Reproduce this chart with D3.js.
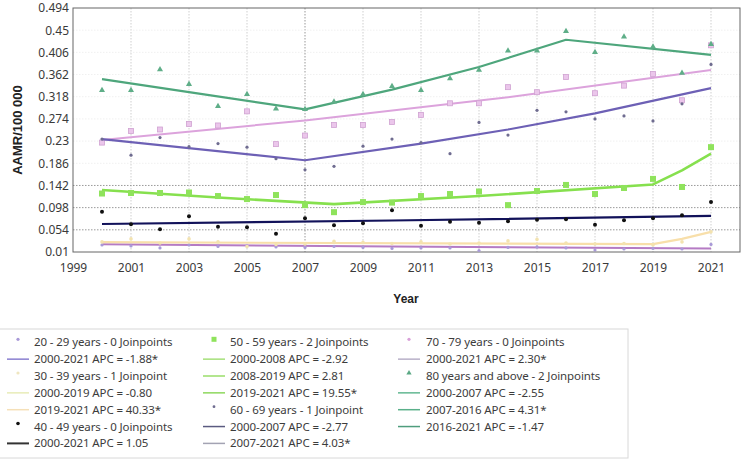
<!DOCTYPE html>
<html>
<head>
<meta charset="utf-8">
<script src="https://cdn.jsdelivr.net/npm/d3@7/dist/d3.min.js"></script>
<style>
  html, body { margin: 0; padding: 0; background: #fff; }
  svg { display: block; }
</style>
</head>
<body>
<svg id="chart" width="750" height="468"></svg>
<script>
// ---------------- DATA ----------------
const years = [2000,2001,2002,2003,2004,2005,2006,2007,2008,2009,2010,2011,2012,2013,2014,2015,2016,2017,2018,2019,2020,2021];

const obs20_29 = [0.024,0.022,0.018,0.024,0.021,0.022,0.020,0.019,0.021,0.019,0.017,0.018,0.018,0.013,0.019,0.020,0.018,0.014,0.016,0.017,0.016,0.025];
const obs30_39 = [0.030,0.036,0.028,0.036,0.030,0.021,0.025,0.026,0.031,0.029,0.027,0.030,0.026,0.028,0.032,0.035,0.028,0.026,0.027,0.024,0.030,0.050];
const obs40_49 = [0.090,0.065,0.055,0.081,0.060,0.059,0.046,0.077,0.063,0.067,0.093,0.062,0.070,0.068,0.071,0.074,0.075,0.064,0.073,0.077,0.083,0.109];
const obs50_59 = [0.126,0.127,0.127,0.128,0.121,0.115,0.123,0.103,0.089,0.109,0.108,0.121,0.125,0.130,0.103,0.131,0.143,0.125,0.137,0.155,0.139,0.218];
const obs60_69 = [0.234,0.202,0.237,0.219,0.225,0.218,0.195,0.173,0.180,0.220,0.234,0.227,0.205,0.267,0.242,0.291,0.288,0.274,0.280,0.270,0.304,0.382];
const obs70_79 = [0.227,0.250,0.253,0.264,0.261,0.289,0.224,0.241,0.262,0.262,0.268,0.282,0.305,0.305,0.337,0.327,0.357,0.325,0.340,0.363,0.311,0.420];
const obs80 = [0.331,0.331,0.372,0.343,0.299,0.323,0.294,0.293,0.308,0.323,0.339,0.331,0.354,0.371,0.409,0.409,0.448,0.406,0.437,0.417,0.365,0.422];

// fitted joinpoint lines: [year, value]
const fit20_29 = [[2000,0.0255],[2010,0.0210],[2021,0.0170]];
const fit30_39 = [[2000,0.0295],[2019,0.0255],[2020,0.0360],[2021,0.0500]];
const fit40_49 = [[2000,0.0655],[2010,0.0725],[2021,0.0815]];
const fit50_59 = [[2000,0.133],[2004,0.118],[2008,0.105],[2013,0.121],[2019,0.144],[2020,0.172],[2021,0.205]];
const fit60_69 = [[2000,0.234],[2007,0.192],[2011,0.225],[2014,0.253],[2017,0.285],[2021,0.335]];
const fit70_79 = [[2000,0.232],[2007,0.271],[2014,0.317],[2021,0.371]];
const fit80 = [[2000,0.353],[2003,0.327],[2007,0.293],[2010,0.332],[2013,0.377],[2016,0.431],[2021,0.401]];

const yTicks = [0.01,0.054,0.098,0.142,0.186,0.23,0.274,0.318,0.362,0.406,0.45,0.494];
const yTickLabels = ["0.01","0.054","0.098","0.142","0.186","0.23","0.274","0.318","0.362","0.406","0.45","0.494"];
const xTicks = [1999,2001,2003,2005,2007,2009,2011,2013,2015,2017,2019,2021];

const legendCol1 = ["20 - 29 years - 0 Joinpoints","2000-2021 APC = -1.88*","30 - 39 years - 1 Joinpoint","2000-2019 APC = -0.80","2019-2021 APC = 40.33*","40 - 49 years - 0 Joinpoints","2000-2021 APC = 1.05"];
const legendCol2 = ["50 - 59 years - 2 Joinpoints","2000-2008 APC = -2.92","2008-2019 APC = 2.81","2019-2021 APC = 19.55*","60 - 69 years - 1 Joinpoint","2000-2007 APC = -2.77","2007-2021 APC = 4.03*"];
const legendCol3 = ["70 - 79 years - 0 Joinpoints","2000-2021 APC = 2.30*","80 years and above - 2 Joinpoints","2000-2007 APC = -2.55","2007-2016 APC = 4.31*","2016-2021 APC = -1.47"];

// ---------------- STYLES ----------------
const series = [
  {obs: obs20_29, fit: fit20_29, line: "#b57bc4", lw: 2, mark: "circle", r: 1.6, fill: "#a99ad8"},
  {obs: obs30_39, fit: fit30_39, line: "#f8dfaa", lw: 2.2, mark: "circle", r: 1.8, fill: "#f3e3b0"},
  {obs: obs70_79, fit: fit70_79, line: "#dca3dc", lw: 2, mark: "square", r: 5, fill: "#ebc6eb", stroke: "#d0a2d2"},
  {obs: obs60_69, fit: fit60_69, line: "#6d60b5", lw: 2.2, mark: "circle", r: 1.6, fill: "#6f6c90"},
  {obs: obs80, fit: fit80, line: "#4ea67c", lw: 2.2, mark: "triangle", r: 16, fill: "#5fae88"},
  {obs: obs40_49, fit: fit40_49, line: "#12125a", lw: 2.2, mark: "circle", r: 2, fill: "#111"},
  {obs: obs50_59, fit: fit50_59, line: "#86e04e", lw: 2.6, mark: "square", r: 6, fill: "#8fe35c"}
];

const leg1Style = [
  {t:"m", mark:"circle", fill:"#a99ad8", r:1.6},
  {t:"l", c:"#8a7fd0"},
  {t:"m", mark:"circle", fill:"#efe6c0", r:1.6},
  {t:"l", c:"#e8ecb8"},
  {t:"l", c:"#f5e0b8"},
  {t:"m", mark:"circle", fill:"#111", r:1.8},
  {t:"l", c:"#333", w:2}
];
const leg2Style = [
  {t:"m", mark:"square", fill:"#8fe35c", r:5},
  {t:"l", c:"#a5e07a"},
  {t:"l", c:"#9ade6a"},
  {t:"l", c:"#8ed85e"},
  {t:"m", mark:"circle", fill:"#6f6c90", r:1.4},
  {t:"l", c:"#5a5a80"},
  {t:"l", c:"#a3a3b3"}
];
const leg3Style = [
  {t:"m", mark:"circle", fill:"#d9a0d9", r:1.6},
  {t:"l", c:"#b8b0c8"},
  {t:"m", mark:"triangle", fill:"#5aa884", r:12},
  {t:"l", c:"#63b892"},
  {t:"l", c:"#5ab08a"},
  {t:"l", c:"#4f9d7d"}
];

// ---------------- CHART ----------------
const svg = d3.select("#chart");
svg.append("rect").attr("width",750).attr("height",468).attr("fill","#fff");

const x = d3.scaleLinear().domain([1999,2022]).range([73,740]);
const y = d3.scaleLinear().domain([0.01,0.494]).range([252,8]);
const FONT = "'Noto Sans', 'Open Sans', sans-serif";

// grid
const grid = svg.append("g");
grid.selectAll("line.v").data(xTicks.filter(d => d > 1999)).enter().append("line")
  .attr("x1", d => x(d)).attr("x2", d => x(d)).attr("y1", 8).attr("y2", 252)
  .attr("stroke", d => d === 2007 ? "#999" : "#cfcfcf").attr("stroke-width", 1)
  .attr("stroke-dasharray", "1.5,1.5");
grid.selectAll("line.h").data(yTicks.slice(1, -1)).enter().append("line")
  .attr("x1", 73).attr("x2", 740).attr("y1", d => y(d)).attr("y2", d => y(d))
  .attr("stroke", d => d <= 0.142 ? "#9a9a9a" : "#f0f0f0").attr("stroke-width", 1)
  .attr("stroke-dasharray", "1.5,1.5");

// axes
const yAxis = d3.axisLeft(y).tickValues(yTicks).tickSize(0).tickPadding(4)
  .tickFormat((d, i) => yTickLabels[i]);
const gy = svg.append("g").attr("transform", "translate(73,0)").call(yAxis);
gy.select(".domain").remove();
gy.selectAll("text").attr("font-family", FONT).attr("font-size", 12).attr("fill", "#3a3a3a");

const xAxis = d3.axisBottom(x).tickValues(xTicks).tickSize(0).tickPadding(11)
  .tickFormat(d3.format("d"));
const gx = svg.append("g").attr("transform", "translate(0,252)").call(xAxis);
gx.select(".domain").remove();
gx.selectAll("text").attr("font-family", FONT).attr("font-size", 12).attr("fill", "#3a3a3a");

// frame
svg.append("rect").attr("x", 73).attr("y", 8).attr("width", 667).attr("height", 244)
  .attr("fill", "none").attr("stroke", "#666").attr("stroke-width", 1);

// series
const lineGen = d3.line().x(d => x(d[0])).y(d => y(d[1]));
function drawMark(g, m, cx, cy) {
  if (m.mark === "circle") {
    g.append("circle").attr("cx", cx).attr("cy", cy).attr("r", m.r).attr("fill", m.fill);
  } else if (m.mark === "square") {
    g.append("rect").attr("x", cx - m.r/2).attr("y", cy - m.r/2).attr("width", m.r).attr("height", m.r)
      .attr("fill", m.fill).attr("stroke", m.stroke || "none").attr("stroke-width", m.stroke ? 0.8 : 0);
  } else if (m.mark === "triangle") {
    g.append("path").attr("d", d3.symbol().type(d3.symbolTriangle).size(m.r)())
      .attr("transform", `translate(${cx},${cy})`).attr("fill", m.fill);
  }
}
series.forEach(s => {
  const g = svg.append("g");
  g.append("path").attr("d", lineGen(s.fit)).attr("fill", "none")
    .attr("stroke", s.line).attr("stroke-width", s.lw).attr("stroke-linejoin", "round");
  s.obs.forEach((v, i) => drawMark(g, s, x(years[i]), y(v)));
});

// axis titles
svg.append("text").attr("transform", "translate(22,130) rotate(-90)")
  .attr("text-anchor", "middle").attr("font-family", "'Liberation Sans', Arial, sans-serif")
  .attr("font-weight", "bold").attr("font-size", 13).attr("fill", "#222").text("AAMR/100 000");
svg.append("text").attr("x", 406).attr("y", 303).attr("text-anchor", "middle")
  .attr("font-family", "'Liberation Sans', Arial, sans-serif")
  .attr("font-weight", "bold").attr("font-size", 12).attr("fill", "#222").text("Year");

// legend
svg.append("rect").attr("x", -1).attr("y", 329).attr("width", 629).attr("height", 129)
  .attr("fill", "#fff").attr("stroke", "#d8d8d8").attr("stroke-width", 1);
const legCols = [
  {labels: legendCol1, styles: leg1Style, mx: 18, tx: 34},
  {labels: legendCol2, styles: leg2Style, mx: 214, tx: 230},
  {labels: legendCol3, styles: leg3Style, mx: 409, tx: 426}
];
const lg = svg.append("g");
legCols.forEach(col => {
  col.labels.forEach((lab, i) => {
    const cy = 342.3 + i * 16.85;
    const st = col.styles[i];
    if (st.t === "m") {
      drawMark(lg, st, col.mx, cy - 3);
    } else {
      lg.append("line").attr("x1", col.mx - 11).attr("x2", col.mx + 11).attr("y1", cy).attr("y2", cy)
        .attr("stroke", st.c).attr("stroke-width", st.w || 1.5);
    }
    lg.append("text").attr("x", col.tx).attr("y", cy + 4).attr("font-family", FONT)
      .attr("font-size", 11.5).attr("letter-spacing", "-0.1px").attr("fill", "#3c3c3c").text(lab);
  });
});
</script>
</body>
</html>
